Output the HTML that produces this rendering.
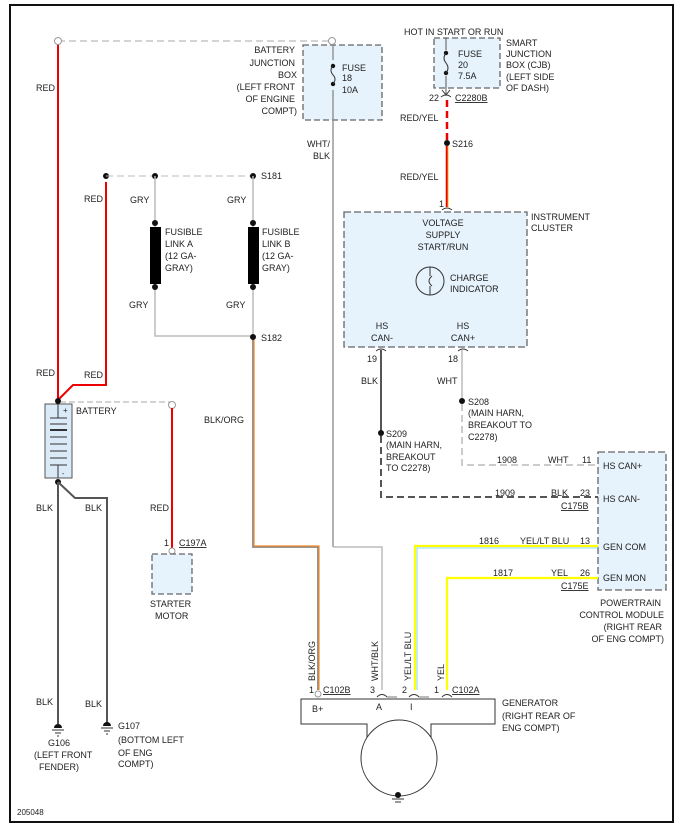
<!DOCTYPE html>
<html><head><meta charset="utf-8"><style>
html,body{margin:0;padding:0;background:#fff}
svg{display:block}
text{font-family:"Liberation Sans",sans-serif;font-size:9px;fill:#222}
</style></head><body>
<svg width="686" height="835" viewBox="0 0 686 835" xmlns="http://www.w3.org/2000/svg">
<rect x="10" y="5" width="663" height="817" fill="none" stroke="#111" stroke-width="2"/>

<line x1="58" y1="41" x2="332" y2="41" stroke="#aaa" stroke-dasharray="7,4"/>
<line x1="58" y1="44" x2="58" y2="400" stroke="#e00" stroke-width="2"/>
<circle cx="58" cy="41" r="3.5" fill="#fff" stroke="#999"/>
<text x="36" y="91">RED</text>
<text x="36" y="376">RED</text>

<rect x="303" y="45" width="79" height="75" fill="#e6f3fc" stroke="#666" stroke-dasharray="6,3" stroke-width="1.3"/>
<line x1="333" y1="44" x2="333" y2="547" stroke="#888" stroke-width="1.3"/>
<circle cx="332" cy="41" r="3.5" fill="#fff" stroke="#999"/>
<rect x="330" y="60" width="6" height="30" fill="#e6f3fc"/>
<circle cx="333" cy="66" r="2.2" fill="#111"/><circle cx="333" cy="84" r="2.2" fill="#111"/>
<path d="M333 66 q-4 4 0 9 q4 4 0 9" fill="none" stroke="#333"/>
<text x="342" y="71">FUSE</text><text x="342" y="81">18</text><text x="342" y="93">10A</text>
<g text-anchor="end"><text x="295" y="53">BATTERY</text><text x="295" y="66">JUNCTION</text><text x="297" y="78">BOX</text><text x="295" y="90">(LEFT FRONT</text><text x="295" y="102">OF ENGINE</text><text x="297" y="114">COMPT)</text>
<text x="330" y="147">WHT/</text><text x="330" y="159">BLK</text></g>
<polyline points="333,547 382,547 382,690" fill="none" stroke="#bbb" stroke-width="1.5"/>

<polyline points="58,400 73,385 106,385 106,182" fill="none" stroke="#e00" stroke-width="2"/>
<circle cx="106" cy="176" r="3" fill="#111"/>
<line x1="106" y1="176" x2="253" y2="176" stroke="#bbb" stroke-dasharray="7,4"/>
<circle cx="155" cy="176" r="3" fill="#111"/><circle cx="253" cy="176" r="3" fill="#111"/>
<text x="84" y="202">RED</text><text x="84" y="378">RED</text>
<text x="261" y="179">S181</text>
<line x1="155" y1="176" x2="155" y2="287" stroke="#bbb" stroke-width="1.5"/>
<line x1="253" y1="176" x2="253" y2="336" stroke="#bbb" stroke-width="1.5"/>
<polyline points="155,287 155,336 253,336" fill="none" stroke="#bbb" stroke-width="1.5"/>
<rect x="150" y="227" width="11" height="57" fill="#000"/>
<rect x="248" y="227" width="11" height="57" fill="#000"/>
<circle cx="155" cy="223" r="3" fill="#111"/><circle cx="155" cy="287" r="3" fill="#111"/>
<circle cx="253" cy="223" r="3" fill="#111"/><circle cx="253" cy="287" r="3" fill="#111"/>
<text x="130" y="203">GRY</text><text x="227" y="203">GRY</text>
<text x="129" y="308">GRY</text><text x="226" y="308">GRY</text>
<text x="165" y="235">FUSIBLE</text><text x="165" y="247">LINK A</text><text x="165" y="259">(12 GA-</text><text x="165" y="271">GRAY)</text>
<text x="262" y="235">FUSIBLE</text><text x="262" y="247">LINK B</text><text x="262" y="259">(12 GA-</text><text x="262" y="271">GRAY)</text>
<circle cx="253" cy="337" r="3" fill="#111"/><text x="261" y="341">S182</text>
<polyline points="253,340 253,547 318,547 318,690" fill="none" stroke="#888" stroke-width="1.8"/>
<polyline points="254,340 254,546 319,546 319,690" fill="none" stroke="#f08a28" stroke-width="1.2"/>
<text x="204" y="423">BLK/ORG</text>

<line x1="60" y1="402" x2="172" y2="402" stroke="#aaa" stroke-dasharray="6,3"/>
<rect x="45" y="404" width="27" height="74" fill="#dbeaf7" stroke="#555"/>
<line x1="58" y1="404" x2="58" y2="418" stroke="#333"/>
<text x="63" y="413" style="font-size:8px">+</text>
<g stroke="#333"><line x1="50" y1="418" x2="67" y2="418"/><line x1="50" y1="424" x2="67" y2="424"/><line x1="50" y1="430" x2="67" y2="430" stroke-width="2"/><line x1="50" y1="437" x2="67" y2="437"/><line x1="50" y1="444" x2="67" y2="444"/><line x1="50" y1="451" x2="67" y2="451"/><line x1="50" y1="458" x2="67" y2="458"/><line x1="50" y1="465" x2="67" y2="465"/><line x1="58" y1="465" x2="58" y2="478"/></g>
<text x="62" y="476" style="font-size:7px">-</text>
<circle cx="58" cy="401" r="3" fill="#111"/>
<text x="76" y="414">BATTERY</text>
<circle cx="172" cy="405" r="3.5" fill="#fff" stroke="#999"/>
<line x1="172" y1="408" x2="172" y2="550" stroke="#e00" stroke-width="2"/>
<text x="150" y="511">RED</text>
<text x="164" y="546">1</text><text x="179" y="546" text-decoration="underline">C197A</text>
<circle cx="172" cy="551" r="3" fill="#fff" stroke="#999"/>
<rect x="152" y="554" width="40" height="40" fill="#e6f3fc" stroke="#666" stroke-dasharray="6,3" stroke-width="1.3"/>
<text x="150" y="607">STARTER</text><text x="155" y="619">MOTOR</text>

<circle cx="58" cy="482" r="3" fill="#111"/>
<line x1="58" y1="482" x2="58" y2="724" stroke="#555" stroke-width="2"/>
<polyline points="58,482 75,498 107,498 107,724" fill="none" stroke="#555" stroke-width="2"/>
<text x="36" y="511">BLK</text><text x="85" y="511">BLK</text>
<text x="36" y="705">BLK</text><text x="85" y="707">BLK</text>
<path d="M54 728 a4 4 0 0 1 8 0z" fill="#111"/><line x1="52" y1="730" x2="64" y2="730" stroke="#333"/><line x1="55" y1="733" x2="61" y2="733" stroke="#333"/><line x1="57" y1="736" x2="59" y2="736" stroke="#333"/>
<path d="M103 726 a4 4 0 0 1 8 0z" fill="#111"/><line x1="101" y1="728" x2="113" y2="728" stroke="#333"/><line x1="104" y1="731" x2="110" y2="731" stroke="#333"/><line x1="106" y1="734" x2="108" y2="734" stroke="#333"/>
<text x="48" y="746">G106</text><text x="34" y="758">(LEFT FRONT</text><text x="39" y="770">FENDER)</text>
<text x="118" y="729">G107</text><text x="118" y="743">(BOTTOM LEFT</text><text x="118" y="756">OF ENG</text><text x="118" y="767">COMPT)</text>

<text x="404" y="35">HOT IN START OR RUN</text>
<rect x="434" y="38" width="66" height="50" fill="#e6f3fc" stroke="#666" stroke-dasharray="6,3" stroke-width="1.3"/>
<line x1="446" y1="38" x2="446" y2="95" stroke="#555"/>
<rect x="443" y="50" width="6" height="26" fill="#e6f3fc"/>
<circle cx="446" cy="53" r="2.2" fill="#111"/><circle cx="446" cy="73" r="2.2" fill="#111"/>
<path d="M446 53 q-4 5 0 10 q4 5 0 10" fill="none" stroke="#333"/>
<path d="M442 90 l4 5 l4 -5" fill="none" stroke="#333"/>
<text x="458" y="57">FUSE</text><text x="458" y="68">20</text><text x="458" y="79">7.5A</text>
<text x="506" y="46">SMART</text><text x="506" y="57">JUNCTION</text><text x="506" y="68">BOX (CJB)</text><text x="506" y="80">(LEFT SIDE</text><text x="506" y="91">OF DASH)</text>
<path d="M441 97 q5 -4 10 0" fill="none" stroke="#333"/>
<text x="429" y="101">22</text><text x="455" y="101" text-decoration="underline">C2280B</text>
<line x1="447" y1="100" x2="447" y2="143" stroke="#e00" stroke-width="2.5" stroke-dasharray="7,4"/>
<circle cx="447" cy="143" r="3" fill="#111"/><text x="452" y="147">S216</text>
<line x1="447" y1="146" x2="447" y2="207" stroke="#e00" stroke-width="2.5"/>
<line x1="448" y1="146" x2="448" y2="207" stroke="#fc0" stroke-width="0.8"/>
<text x="400" y="121">RED/YEL</text><text x="400" y="180">RED/YEL</text>
<text x="439" y="207">1</text>
<path d="M442 210 q5 -4 10 0" fill="none" stroke="#333"/>

<rect x="344" y="212" width="183" height="135" fill="#e6f3fc" stroke="#666" stroke-dasharray="7,3" stroke-width="1.3"/>
<text x="531" y="220">INSTRUMENT</text><text x="531" y="231">CLUSTER</text>
<g text-anchor="middle"><text x="443" y="226">VOLTAGE</text><text x="443" y="238">SUPPLY</text><text x="443" y="250">START/RUN</text>
<text x="382" y="329">HS</text><text x="382" y="341">CAN-</text><text x="463" y="329">HS</text><text x="463" y="341">CAN+</text></g>
<circle cx="430" cy="281" r="14" fill="none" stroke="#333"/>
<line x1="430" y1="267" x2="430" y2="276" stroke="#333"/><line x1="430" y1="286" x2="430" y2="295" stroke="#333"/>
<path d="M432 276 q-6 5 0 10" fill="none" stroke="#333"/>
<text x="450" y="281">CHARGE</text><text x="450" y="292">INDICATOR</text>
<path d="M376 351 q5 -4 10 0" fill="none" stroke="#333"/><path d="M458 351 q5 -4 10 0" fill="none" stroke="#333"/>
<text x="367" y="362">19</text><text x="448" y="362">18</text>
<line x1="381" y1="350" x2="381" y2="433" stroke="#555" stroke-width="2"/>
<text x="361" y="384">BLK</text>
<circle cx="381" cy="433" r="3" fill="#111"/>
<text x="386" y="437">S209</text><text x="386" y="448">(MAIN HARN,</text><text x="386" y="460">BREAKOUT</text><text x="386" y="471">TO C2278)</text>
<polyline points="381,436 381,497 598,497" fill="none" stroke="#555" stroke-width="2" stroke-dasharray="7,4"/>
<line x1="462" y1="350" x2="462" y2="401" stroke="#ccc" stroke-width="2"/>
<text x="437" y="384">WHT</text>
<circle cx="462" cy="401" r="3" fill="#111"/>
<text x="468" y="405">S208</text><text x="468" y="416">(MAIN HARN,</text><text x="468" y="428">BREAKOUT TO</text><text x="468" y="440">C2278)</text>
<polyline points="462,404 462,465 598,465" fill="none" stroke="#ccc" stroke-width="2" stroke-dasharray="7,4"/>

<rect x="598" y="452" width="68" height="138" fill="#e6f3fc" stroke="#666" stroke-dasharray="7,3" stroke-width="1.3"/>
<text x="603" y="469">HS CAN+</text><text x="603" y="502">HS CAN-</text><text x="603" y="550">GEN COM</text><text x="603" y="581">GEN MON</text>
<text x="497" y="463">1908</text><text x="548" y="463">WHT</text><text x="582" y="463">11</text>
<text x="495" y="496">1909</text><text x="551" y="496">BLK</text><text x="580" y="496">23</text>
<text x="561" y="509" text-decoration="underline">C175B</text>
<text x="479" y="544">1816</text><text x="520" y="544">YEL/LT BLU</text><text x="580" y="544">13</text>
<text x="493" y="576">1817</text><text x="551" y="576">YEL</text><text x="580" y="576">26</text>
<text x="561" y="589" text-decoration="underline">C175E</text>
<g text-anchor="end"><text x="661" y="606">POWERTRAIN</text><text x="664" y="618">CONTROL MODULE</text><text x="662" y="630">(RIGHT REAR</text><text x="664" y="642">OF ENG COMPT)</text></g>
<polyline points="598,546 415,546 415,690" fill="none" stroke="#ff0" stroke-width="2.2"/>
<polyline points="598,548 417,548 417,690" fill="none" stroke="#6cf" stroke-width="0.8"/>
<polyline points="598,578 447,578 447,690" fill="none" stroke="#ff0" stroke-width="2.2"/>

<g style="font-size:9px">
<text transform="translate(315,681) rotate(-90)">BLK/ORG</text>
<text transform="translate(378,681) rotate(-90)">WHT/BLK</text>
<text transform="translate(411,681) rotate(-90)">YEL/LT BLU</text>
<text transform="translate(444,681) rotate(-90)">YEL</text>
</g>

<text x="309" y="693">1</text><text x="323" y="693" text-decoration="underline">C102B</text>
<text x="370" y="693">3</text><text x="402" y="693">2</text><text x="434" y="693">1</text>
<text x="452" y="693" text-decoration="underline">C102A</text>
<circle cx="318" cy="694" r="3" fill="#fff" stroke="#999"/>
<path d="M377 697 q5 -5 10 0 M409 697 q5 -5 10 0 M442 697 q5 -5 10 0" fill="none" stroke="#333"/>
<line x1="387" y1="697" x2="397" y2="697" stroke="#777"/><line x1="419" y1="697" x2="429" y2="697" stroke="#777"/>
<path d="M367 738 V724 H301 V699 H495 V724 H431 V738" fill="none" stroke="#333"/>
<circle cx="399" cy="758" r="38" fill="#fff" stroke="#333"/>
<circle cx="398" cy="795" r="3" fill="#111"/>
<line x1="392" y1="799" x2="404" y2="799" stroke="#333"/><line x1="395" y1="802" x2="401" y2="802" stroke="#333"/>
<text x="312" y="712">B+</text><text x="376" y="710">A</text><text x="410" y="710">I</text>
<text x="502" y="706">GENERATOR</text><text x="502" y="719">(RIGHT REAR OF</text><text x="502" y="731">ENG COMPT)</text>

<text x="17" y="815" style="font-size:8px">205048</text>
</svg>
</body></html>
